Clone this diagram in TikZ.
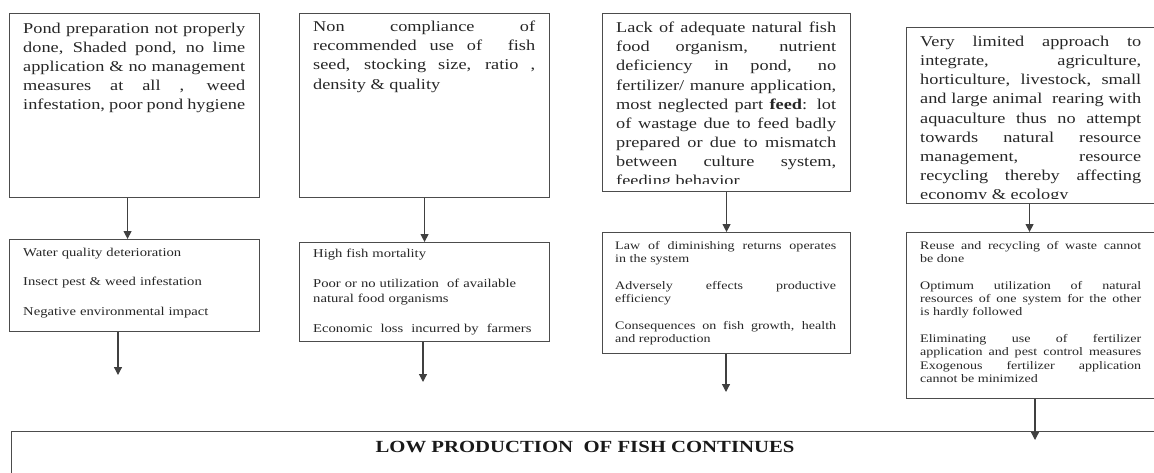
\documentclass[tikz,border=0pt]{standalone}
\usepackage{fontspec}
\setmainfont{Liberation Serif}[FakeStretch=1.22]
\usetikzlibrary{positioning, arrows.meta}
\tikzstyle{causebox} = [rectangle, draw=black!70, line width=1.1pt, anchor=north west, inner sep=0pt, minimum width=250pt]
\tikzstyle{causetext} = [anchor=north west, inner sep=0pt, text width=222pt, align=justify, text=black!85, font=\fontsize{15}{19.1}\selectfont]
\tikzstyle{effecttext} = [anchor=north west, inner sep=0pt, text width=221pt, align=justify, text=black!85, font=\fontsize{11.5}{13.3}\selectfont]
\tikzstyle{losstext} = [effecttext, align=left, font=\fontsize{12}{15}\selectfont]
\tikzstyle{arrow} = [line width=1.2pt, draw=black!75, -{Triangle[width=8pt,length=8pt]}]

\begin{document}
\begin{tikzpicture}[x=1pt, y=-1pt]
\useasboundingbox (0,0) rectangle (1154,472);

% Causes
\node (pond) [causebox, minimum height=184pt] at (9,13) {};
\node (seed) [causebox, minimum height=184pt] at (299,13) {};
\node (feed) [causebox, minimum width=248pt, minimum height=178pt] at (602,13) {};
\node (integ) [causebox, minimum height=176pt] at (906,27) {};

\node (pondtext) [causetext, below right=9.5pt and 14pt of pond.north west] {Pond preparation not properly\linebreak done, Shaded pond, no lime\linebreak application \& no management\linebreak measures at all , weed\linebreak infestation, poor pond hygiene};
\node (seedtext) [causetext, below right=8pt and 14pt of seed.north west] {Non compliance of\linebreak recommended use of~ fish\linebreak seed, stocking size, ratio ,\linebreak density \& quality};
\begin{scope}
\clip (feed.north west) rectangle ([yshift=9pt]feed.south east);
\node (feedtext) [causetext, text width=220pt, below right=9pt and 14pt of feed.north west] {Lack of adequate natural fish\linebreak food organism, nutrient\linebreak deficiency in pond, no\linebreak fertilizer/ manure application,\linebreak most neglected part \textbf{feed}: lot\linebreak of wastage due to feed badly\linebreak prepared or due to mismatch\linebreak between culture system,\linebreak feeding behavior};
\end{scope}
\begin{scope}
\clip (integ.north west) rectangle ([yshift=6pt]integ.south east);
\node (integtext) [causetext, text width=221pt, below right=9pt and 14pt of integ.north west] {Very limited approach to\linebreak integrate, agriculture,\linebreak horticulture, livestock, small\linebreak and large animal~ rearing with\linebreak aquaculture thus no attempt\linebreak towards natural resource\linebreak management, resource\linebreak recycling thereby affecting\linebreak economy \& ecology};
\end{scope}

% Effects
\node (water) [causebox, minimum height=92pt] at (9,239) {};
\node (mortality) [causebox, minimum height=99pt] at (299,242) {};
\node (returns) [causebox, minimum width=248pt, minimum height=121pt] at (602,232) {};
\node (reuse) [causebox, minimum height=166pt] at (906,232) {};

\node (watertext) [losstext, below right=8.5pt and 14pt of water.north west] {Water quality deterioration\\[14.5pt]Insect pest \& weed infestation\\[14.5pt]Negative environmental impact};
\node (mortalitytext) [losstext, below right=7pt and 14pt of mortality.north west] {High fish mortality\\[15pt]Poor or no utilization~ of available\\natural food organisms\\[15pt]Economic~ loss~ incurred by~ farmers};
\node (returnstext) [effecttext, below right=9pt and 13pt of returns.north west] {Law of diminishing returns operates\linebreak in the system\\[13.3pt]Adversely effects productive\linebreak efficiency\\[13.3pt]Consequences on fish growth, health\linebreak and reproduction};
\node (reusetext) [effecttext, below right=9pt and 14pt of reuse.north west] {Reuse and recycling of waste cannot\linebreak be done\\[13.3pt]Optimum utilization of natural\linebreak resources of one system for the other\linebreak is hardly followed\\[13.3pt]Eliminating use of fertilizer\linebreak application and pest control measures\linebreak Exogenous fertilizer application\linebreak cannot be minimized};

% Result
\node (low) [causebox, minimum width=1160pt, minimum height=60pt] at (11,431) {};
\node (lowtitle) [text=black!90, font=\fontsize{17}{20}\selectfont\bfseries] at (585,447) {LOW PRODUCTION~ OF FISH CONTINUES};

% Loose ends of the arrows
\coordinate (waterend) at (118,375);
\coordinate (mortalityend) at (423,382);
\coordinate (returnsend) at (726,392);
\coordinate (reuseend) at (1035,440);

% Arrows from causes to effects
\draw [arrow] ([xshift=-7pt]pond.south) -- ([xshift=-7pt]water.north);
\draw [arrow] (seed.south) -- (seed.south |- mortality.north);
\draw [arrow] (feed.south) -- (feed.south |- returns.north);
\draw [arrow] ([xshift=-2pt]integ.south) -- ([xshift=-2pt]reuse.north);

% Arrows down from effects
\draw [arrow] (water.south -| waterend) -- (waterend);
\draw [arrow] (mortality.south -| mortalityend) -- (mortalityend);
\draw [arrow] (returns.south -| returnsend) -- (returnsend);
\draw [arrow] (reuse.south -| reuseend) -- (reuseend);

\end{tikzpicture}
\end{document}
